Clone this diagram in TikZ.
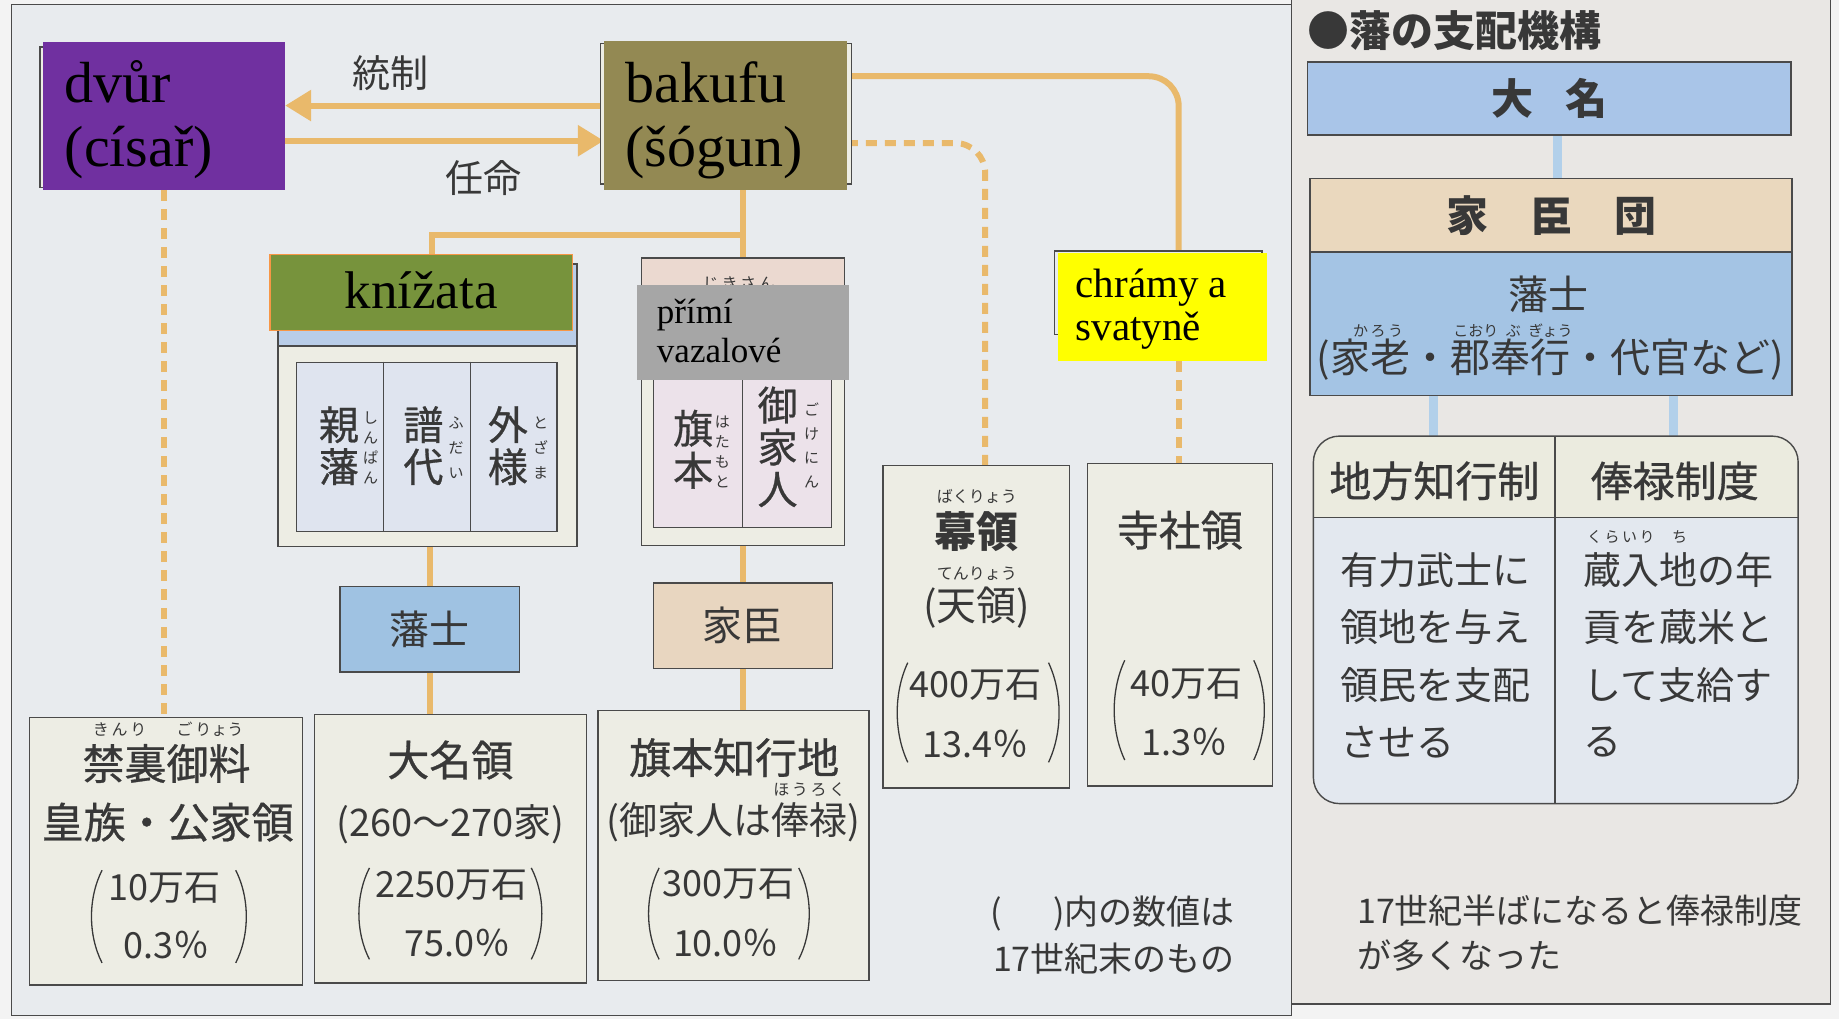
\documentclass[tikz,border=0pt]{standalone}
\usepackage{fontspec}
\setmainfont{Liberation Serif}
\newfontfamily\jp{Noto Sans CJK JP}
\newfontfamily\jpm{Noto Sans CJK JP}[FakeBold=0.7]
\usetikzlibrary{arrows.meta,fit,calc}
\pgfdeclarelayer{bglayer}
\pgfdeclarelayer{midlayer}
\pgfsetlayers{bglayer,midlayer,main}
\definecolor{bgL}{HTML}{E8EBEE}
\definecolor{bgR}{HTML}{E9E7E4}
\definecolor{outc}{HTML}{F3F3F3}
\definecolor{framec}{HTML}{4A4A4A}
\definecolor{creamc}{HTML}{EDEDE4}
\definecolor{textc}{HTML}{383838}
\definecolor{orangec}{HTML}{E9B96B}
\definecolor{purplec}{HTML}{7030A0}
\definecolor{olivec}{HTML}{938953}
\definecolor{greenc}{HTML}{77933C}
\definecolor{greenedge}{HTML}{F79646}
\definecolor{grayc}{HTML}{A6A6A6}
\definecolor{yellowc}{HTML}{FFFF00}
\definecolor{hanshic}{HTML}{9FC2E2}
\definecolor{kashinc}{HTML}{E8D6C0}
\definecolor{colblue}{HTML}{DFE4EF}
\definecolor{colpink}{HTML}{ECE2EA}
\definecolor{bandblue}{HTML}{B9CDE8}
\definecolor{bandpink}{HTML}{EBD9D0}
\definecolor{daimyoc}{HTML}{A9C5E8}
\definecolor{kashindanc}{HTML}{EAD8BE}
\definecolor{rhanshic}{HTML}{A4C4E4}
\definecolor{lblue}{HTML}{B2D0EA}
\definecolor{thead}{HTML}{EBEBDF}
\definecolor{tbody}{HTML}{E3E8EF}
\newcommand\tallparens[4]{%
  \draw[paren] ({#1+8},#3) .. controls ({#1-4},{#3+0.3*(#4-#3)}) and ({#1-4},{#3+0.7*(#4-#3)}) .. ({#1+8},#4);
  \draw[paren] ({#2-8},#3) .. controls ({#2+4},{#3+0.3*(#4-#3)}) and ({#2+4},{#3+0.7*(#4-#3)}) .. ({#2-8},#4);
}
\begin{document}
\begin{tikzpicture}[x=1.1728pt,y=-1.1728pt,
  boxframe/.style={draw=framec,line width=1.4pt,inner sep=0pt},
  creambox/.style={boxframe,fill=creamc},
  conn/.style={draw=orangec,line width=6pt},
  dconn/.style={conn,dash pattern=on 11pt off 8pt},
  bconn/.style={draw=lblue,line width=9pt},
  arrowtip/.style={-{Triangle[length=26pt,width=30pt]}},
  jt/.style={font=\jp\fontsize{40}{44}\selectfont,text=textc,inner sep=0pt},
  jtm/.style={font=\jp\fontsize{38}{42}\selectfont,text=textc,inner sep=0pt},
  jmed/.style={font=\jpm\fontsize{42}{46}\selectfont,text=textc,inner sep=0pt},
  jtb/.style={font=\jp\bfseries\fontsize{42}{46}\selectfont,text=textc,inner sep=0pt},
  jnum/.style={font=\jp\fontsize{36}{40}\selectfont,text=textc,inner sep=0pt},
  jsmall/.style={font=\jp\fontsize{34}{38}\selectfont,text=textc,inner sep=0pt},
  ruby/.style={font=\jp\fontsize{15}{20}\selectfont,text=textc,inner sep=0pt,align=center},
  vert/.style={font=\jpm\fontsize{40}{42}\selectfont,text=textc,inner sep=0pt,align=center},
  cz/.style={text=black,inner sep=0pt,anchor=base west},
  czbig/.style={cz,font=\fontsize{58}{64}\selectfont},
  paren/.style={draw=textc,line width=1.3pt},
  thinline/.style={draw=framec,line width=1.4pt}
]
\useasboundingbox (0,0) rectangle (1568,869);
\begin{pgfonlayer}{bglayer}
\fill[outc] (0,0) rectangle (1568,869);
\draw[fill=bgL,draw=framec,line width=1.2pt] (10,4) rectangle (1101,866);
\draw[fill=bgR,draw=framec,line width=1.2pt] (1101,-5) rectangle (1561,856);
\end{pgfonlayer}

% court and bakufu
\node[creambox,fit={(34,40) (240,160)}] (dvurbg) {};
\node[fill=purplec,inner sep=0pt,fit={(37,36) (243,162)}] (dvur) {};
\node[czbig] (dvurA) at (55,87) {dvůr};
\node[czbig] (dvurB) at (55,142) {(císař)};
\node[creambox,fit={(512,37) (726,157)}] (bakufubg) {};
\node[fill=olivec,inner sep=0pt,fit={(515,35) (722,162)}] (bakufu) {};
\node[czbig] (bakufuA) at (533,87) {bakufu};
\node[czbig] (bakufuB) at (533,142) {(šógun)};
\node[jtm] (tosei) at (333,62) {統制};
\node[jtm] (ninmei) at (412,152) {任命};

% daimyo group
\node[creambox,fit={(237,225) (492,466)}] (kfr) {};
\node[boxframe,fill=bandblue,fit={(237,225) (492,295)}] (kband) {};
\node[boxframe,fill=colblue,fit={(253,309) (475,453)}] (kcols) {};
\draw[thinline] (327,0 |- kcols.north) -- (327,0 |- kcols.south);
\draw[thinline] (401,0 |- kcols.north) -- (401,0 |- kcols.south);
\node[vert] (shinpan) at (289,380) {親\\藩};
\node[ruby] (shinpanR) at (316,382) {し\\ん\\ぱ\\ん};
\node[vert] (fudai) at (361,380) {譜\\代};
\node[ruby,font=\jp\fontsize{15}{25}\selectfont] (fudaiR) at (389,382) {ふ\\だ\\い};
\node[vert] (tozama) at (433,380) {外\\様};
\node[ruby,font=\jp\fontsize{15}{25}\selectfont] (tozamaR) at (461,382) {と\\ざ\\ま};
\node[fill=greenc,draw=greenedge,line width=1.5pt,inner sep=0pt,fit={(230,217) (488,282)}] (kn) {};
\node[cz,anchor=base,font=\fontsize{53}{60}\selectfont] (knT) at (359,263) {knížata};

% direct vassals group
\node[creambox,fit={(547,220) (720,465)}] (jfr) {};
\node[boxframe,fill=bandpink,fit={(547,220) (720,300)}] (jband) {};
\node[ruby,font=\jp\fontsize{16}{20}\selectfont] (jikisanR) at (630,242) {じ\,き\,さ\,ん};
\node[boxframe,fill=colpink,fit={(557,318) (709,450)}] (jcols) {};
\draw[thinline] (633,0 |- jcols.north) -- (633,0 |- jcols.south);
\node[vert] (hatamotoV) at (591,383) {旗\\本};
\node[ruby] (hatamotoR) at (616,385) {は\\た\\も\\と};
\node[vert] (gokeninV) at (663,381) {御\\家\\人};
\node[ruby,font=\jp\fontsize{15}{24}\selectfont] (gokeninR) at (692,380) {ご\\け\\に\\ん};
\node[fill=grayc,inner sep=0pt,fit={(543,243) (724,324)}] (jik) {};
\node[cz,font=\fontsize{35}{40}\selectfont] (jikA) at (560,276) {přímí};
\node[cz,font=\fontsize{35}{40}\selectfont] (jikB) at (560,309) {vazalové};

% retainers
\node[boxframe,fill=hanshic,fit={(290,500) (443,573)}] (hanshi) {};
\node[jt] (hanshiT) at (hanshi.center) {藩士};
\node[boxframe,fill=kashinc,fit={(557,497) (710,570)}] (kashin) {};
\node[jt] (kashinT) at (kashin.center) {家臣};

% bottom domains
\node[creambox,fit={(25,612) (258,840)}] (kinri) {};
\node[ruby,font=\jp\fontsize{16}{20}\selectfont] (kinriR1) at (102,622) {き\,ん\,り};
\node[ruby,font=\jp\fontsize{16}{20}\selectfont] (kinriR2) at (179,622) {ご\,りょう};
\node[jmed] (kinriA) at (142,651) {禁裏御料};
\node[jmed] (kinriB) at (143,701) {皇族・公家領};
\node[jnum] (kinriC) at (140,757) {10万石};
\node[jnum] (kinriD) at (142,806) {0.3％};
\tallparens{79}{209}{742}{821}

\node[creambox,fit={(268,609) (500,838)}] (daimyoryo) {};
\node[jmed] (dA) at (384,648) {大名領};
\node[jtm] (dB) at (384,703) {(260～270家)};
\node[jnum] (dC) at (385,755) {2250万石};
\node[jnum] (dD) at (390,804) {75.0％};
\tallparens{307}{461}{740}{818}

\node[creambox,fit={(510,606) (741,836)}] (hatamoto) {};
\node[jmed] (hA) at (626,646) {旗本知行地};
\node[ruby,font=\jp\fontsize{16}{20}\selectfont] (hR) at (690,673) {ほ\,う\,ろ\,く};
\node[jtm] (hB) at (625,701) {(御家人は俸禄)};
\node[jnum] (hC) at (621,754) {300万石};
\node[jnum] (hD) at (619,804) {10.0％};
\tallparens{554}{689}{740}{818}

\node[creambox,fit={(753,397) (912,672)}] (bakuryo) {};
\node[ruby,font=\jp\fontsize{16}{20}\selectfont] (bR1) at (833,423) {ばくりょう};
\node[jtb] (bA) at (833,453) {幕領};
\node[ruby,font=\jp\fontsize{16}{20}\selectfont] (bR2) at (833,489) {てんりょう};
\node[jt] (bB) at (833,518) {(天領)};
\node[jnum] (bC) at (832,584) {400万石};
\node[jnum] (bD) at (832,634) {13.4％};
\tallparens{766}{902}{565}{650}

\node[creambox,fit={(927,395) (1085,670)}] (jisha) {};
\node[jmed] (jA) at (1006,452) {寺社領};
\node[jnum] (jC) at (1012,583) {40万石};
\node[jnum] (jD) at (1010,633) {1.3％};
\tallparens{951}{1077}{563}{648}

% temples label
\node[boxframe,fill=bgL,fit={(899,214) (1076,285)}] (chramybg) {};
\node[fill=yellowc,inner sep=0pt,fit={(902,216) (1080,308)}] (chramy) {};
\node[cz,font=\fontsize{41}{46}\selectfont] (chA) at (917,254) {chrámy a};
\node[cz,font=\fontsize{41}{46}\selectfont] (chB) at (917,290) {svatyně};

% note
\node[jsmall,anchor=east] (note1) at (1053,779) {(\hspace{1.5em})内の数値は};
\node[jsmall,anchor=east] (note2) at (1053,817) {17世紀末のもの};

% right panel
\node[jtb,anchor=west] (title) at (1115,26) {●藩の支配機構};
\node[boxframe,fill=daimyoc,fit={(1115,53) (1527,115)}] (rdaimyo) {};
\node[jtb] (rdaimyoT) at (rdaimyo.center) {大\hspace{0.75em}名};
\node[boxframe,fill=kashindanc,fit={(1117,152) (1528,215)}] (rkashindan) {};
\node[jtb] (rkT) at (rkashindan.center) {家　臣　団};
\node[boxframe,fill=rhanshic,fit={(1117,215) (1528,337)}] (rhanshi) {};
\node[jt] (rhA) at (1320,251) {藩士};
\node[ruby] (rhR1) at (1175,282) {か\,ろ\,う};
\node[ruby] (rhR2) at (1290,282) {こおり\enspace ぶ\enspace ぎょう};
\node[jt] (rhB) at (1322,307) {(家老・郡奉行・代官など)};

\node[fill=tbody,inner sep=0pt,rounded corners=26pt,fit={(1120,372) (1533,685)}] (table) {};
\begin{scope}
\clip[rounded corners=26pt] (table.north west) rectangle (table.south east);
\fill[thead] (table.north west) rectangle (1533,441);
\end{scope}
\draw[thinline,rounded corners=26pt] (table.north west) rectangle (table.south east);
\draw[thinline] (table.west |- 0,441) -- (table.east |- 0,441);
\draw[thinline] (1326,0 |- table.north) -- (1326,0 |- table.south);
\node[jmed] (th1) at (1223,410) {地方知行制};
\node[jmed] (th2) at (1428,410) {俸禄制度};
\node[jtm,anchor=west] (tl1) at (1143,486) {有力武士に};
\node[jtm,anchor=west] (tl2) at (1143,535) {領地を与え};
\node[jtm,anchor=west] (tl3) at (1143,584) {領民を支配};
\node[jtm,anchor=west] (tl4) at (1143,633) {させる};
\node[ruby] (trR1) at (1382,458) {く\,ら\,い\,り};
\node[ruby] (trR2) at (1432,458) {ち};
\node[jtm,anchor=west] (tr1) at (1350,486) {蔵入地の年};
\node[jtm,anchor=west] (tr2) at (1350,535) {貢を蔵米と};
\node[jtm,anchor=west] (tr3) at (1350,584) {して支給す};
\node[jtm,anchor=west] (tr4) at (1350,633) {る};
\node[jsmall,anchor=west] (rb1) at (1157,776) {17世紀半ばになると俸禄制度};
\node[jsmall,anchor=west] (rb2) at (1157,815) {が多くなった};

% connectors
\begin{pgfonlayer}{midlayer}
\draw[conn,arrowtip] (bakufu.west |- 0,90) -- (dvur.east |- 0,90);
\draw[conn,arrowtip] (dvur.east |- 0,120) -- (bakufu.west |- 0,120);
\draw[conn,rounded corners=30pt] (bakufu.east |- 0,65) -- (1005,65) -- (1005,0 |- chramy.north);
\draw[dconn] (chramy.south -| 1005,0) -- (jisha.north -| 1005,0);
\draw[dconn,rounded corners=30pt] (bakufu.east |- 0,122) -- (840,122) -- (840,0 |- bakuryo.north);
\draw[dconn] (dvur.south) -- (dvur.south |- kinri.north);
\draw[conn] (bakufu.south -| jfr.north) -- (jfr.north);
\draw[conn] (jfr.north |- 0,200) -- (368,200) -- (368,0 |- kn.north);
\draw[conn] (hanshi.north |- kfr.south) -- (hanshi.north);
\draw[conn] (hanshi.south) -- (hanshi.south |- daimyoryo.north);
\draw[conn] (kashin.north |- jfr.south) -- (kashin.north);
\draw[conn] (kashin.south) -- (kashin.south |- hatamoto.north);
\draw[bconn] (rdaimyo.south -| 1328,0) -- (rkashindan.north -| 1328,0);
\draw[bconn] (rhanshi.south -| 1222,0) -- (table.north -| 1222,0);
\draw[bconn] (rhanshi.south -| 1427,0) -- (table.north -| 1427,0);
\end{pgfonlayer}
\end{tikzpicture}
\end{document}
